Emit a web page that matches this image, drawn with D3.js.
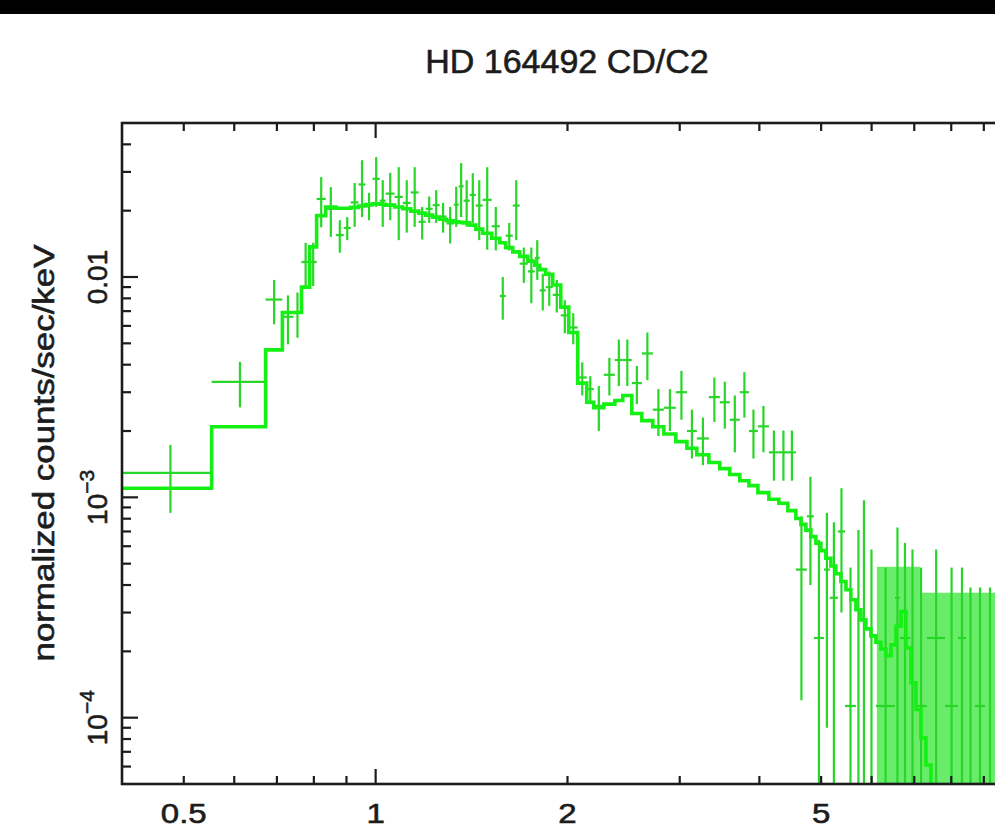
<!DOCTYPE html>
<html>
<head>
<meta charset="utf-8">
<script src="https://cdn.jsdelivr.net/npm/d3@7"></script>
<style>
  body { margin: 0; background: #fff; }
  svg { display: block; }
</style>
</head>
<body>
<svg id="chart" width="995" height="829"></svg>
<script>
// ---- spectrum: grouped channel bins (keV), count rate and 1-sigma error ----
const binEdges = [
  0.40, 0.553, 0.672, 0.714, 0.743, 0.765, 0.788, 0.808, 0.835, 0.866,
  0.891, 0.914, 0.940, 0.964, 0.989, 1.015, 1.037, 1.071, 1.103, 1.135,
  1.168, 1.198, 1.229, 1.260, 1.292, 1.326, 1.350, 1.374, 1.405, 1.436,
  1.472, 1.521, 1.566, 1.600, 1.641, 1.683, 1.733, 1.777, 1.809, 1.849,
  1.896, 1.952, 2.009, 2.075, 2.144, 2.199, 2.280, 2.373, 2.442, 2.523,
  2.616, 2.722, 2.833, 2.958, 3.079, 3.191, 3.333, 3.467, 3.594, 3.727,
  3.852, 3.979, 4.140, 4.292, 4.434, 4.564, 4.749, 4.871, 5.050, 5.160,
  5.312, 5.450, 5.669, 5.773, 5.900, 6.094, 6.529, 6.646, 6.892, 7.018,
  7.328, 7.824, 8.196, 8.437, 8.716, 9.036, 9.370, 10.0
];

const rate = [
  1.29e-3, 3.34e-3, 7.9e-3, 6.6e-3, 6.9e-3, 0.0117, 0.0117, 0.0226, 0.0204, 0.0155,
  0.0167, 0.0218, 0.0263, 0.0211, 0.0279, 0.0222, 0.0239, 0.0231, 0.0217, 0.0242,
  0.0178, 0.0204, 0.0212, 0.0188, 0.0175, 0.0213, 0.0258, 0.0222, 0.0236, 0.0211,
  0.0224, 0.0170, 0.0082, 0.0154, 0.0211, 0.0115, 0.0106, 0.0122, 0.0087, 0.0090,
  0.0083, 0.0067, 0.0059, 0.0035, 0.0031, 0.0026, 0.0036, 0.0042, 0.0042, 0.0033,
  0.0045, 0.0025, 0.00255, 0.0030, 0.0020, 0.00185, 0.00285, 0.0027, 0.00225, 0.0030,
  0.0020, 0.0021, 0.0016, 0.0016, 0.0016, 4.7e-4, 8.2e-4, 2.3e-4, 4.7e-4, 3.5e-4,
  7.0e-4, 1.13e-4, -5e-5, -5e-5, -5e-5, 1.13e-4, 3.5e-4, 2.3e-4, -5e-5, 1.13e-4,
  2.3e-4, 1.13e-4, 2.3e-4, -5e-5, 1.13e-4, -5e-5, 1.13e-4
];

const sigma = [
  4.4e-4, 7.8e-4, 1.8e-3, 1.65e-3, 1.6e-3, 2.6e-3, 2.6e-3, 5.8e-3, 5.2e-3, 2.6e-3,
  2.0e-3, 4.9e-3, 7.6e-3, 3.0e-3, 7.1e-3, 5.3e-3, 5.8e-3, 8.4e-3, 5.8e-3, 7.3e-3,
  3.0e-3, 2.8e-3, 3.6e-3, 2.9e-3, 3.3e-3, 4.4e-3, 7.1e-3, 5.3e-3, 6.0e-3, 6.4e-3,
  9.1e-3, 3.8e-3, 1.8e-3, 2.2e-3, 6.4e-3, 2.1e-3, 3.0e-3, 2.5e-3, 1.65e-3, 1.6e-3,
  1.4e-3, 1.15e-3, 9.5e-4, 6.0e-4, 4.5e-4, 6.0e-4, 7.0e-4, 1.0e-3, 1.0e-3, 6.5e-4,
  1.1e-3, 6.0e-4, 5.5e-4, 7.5e-4, 5.0e-4, 4.5e-4, 6.5e-4, 6.5e-4, 6.5e-4, 7.0e-4,
  5.0e-4, 5.0e-4, 4.1e-4, 4.1e-4, 4.1e-4, 3.5e-4, 4.2e-4, 4.1e-4, 3.8e-4, 4.2e-4,
  4.0e-4, 3.67e-4, 7.6e-4, 1.02e-3, 6.3e-4, 3.67e-4, 3.8e-4, 3.9e-4, 6.3e-4, 3.67e-4,
  3.5e-4, 3.67e-4, 2.5e-4, 4.4e-4, 2.77e-4, 4.4e-4, 2.77e-4
];

// empty single channels above 6 keV: only their upper error bars show
const emptyLo  = [6.115, 7.144];
const emptyHi  = [7.144, 10.0];
const emptyTop = [4.84e-4, 3.69e-4];

// ---- folded model: same bins up to 4.564 keV, finer channels beyond ----
const modelTailEdges = [
  4.648, 4.732, 4.818, 4.906, 4.995, 5.086, 5.179, 5.273, 5.370, 5.469,
  5.567, 5.669, 5.773, 5.878, 5.985, 6.094, 6.205, 6.318, 6.434, 6.552,
  6.672, 6.792, 6.917, 7.042, 7.171, 7.301, 7.434, 7.570, 7.709
];
const modelVal = [
  1.10e-3, 2.09e-3, 4.67e-3, 6.9e-3, 6.9e-3, 9.0e-3, 0.0137, 0.0190, 0.0208, 0.0205,
  0.0205, 0.0207, 0.0210, 0.0213, 0.0215, 0.0214, 0.0212, 0.0208, 0.0204, 0.0199,
  0.0195, 0.0191, 0.0187, 0.0183, 0.0180, 0.0178, 0.0177, 0.0176, 0.0172, 0.0165,
  0.0158, 0.0150, 0.0143, 0.0136, 0.0130, 0.0124, 0.0118, 0.0113, 0.0108, 0.0103,
  0.0092, 0.0073, 0.0056, 0.0033, 0.0027, 0.00255, 0.00265, 0.00275, 0.0029, 0.0024,
  2.23e-3, 2.09e-3, 1.94e-3, 1.79e-3, 1.67e-3, 1.56e-3, 1.44e-3, 1.35e-3, 1.27e-3, 1.19e-3,
  1.13e-3, 1.05e-3, 9.8e-4, 9.4e-4, 8.7e-4,
  8.01e-4, 7.54e-4, 7.10e-4, 6.63e-4, 6.19e-4, 5.73e-4, 5.29e-4, 4.88e-4, 4.50e-4, 4.15e-4,
  3.81e-4, 3.43e-4, 3.09e-4, 2.78e-4, 2.53e-4, 2.35e-4, 2.20e-4, 2.05e-4, 1.91e-4, 2.14e-4,
  2.60e-4, 3.03e-4, 2.07e-4, 1.44e-4, 1.09e-4, 8.1e-5, 6.1e-5, 4.7e-5, 3.5e-5
];

// ---- axes ----
const xDomain = [0.4, 10];
const yDomain = [5e-5, 0.05];
const xTickValues = [0.5, 1, 2, 5];
const xTickLabels = ['0.5', '1', '2', '5'];
const yTickValues = [1e-2, 1e-3, 1e-4];
const yTickBase = ['0.01', '10', '10'];
const yTickExp = ['', '\u22123', '\u22124'];
const titleText = 'HD 164492 CD/C2';
const yTitleText = 'normalized counts/sec/keV';

// ---------------------------------------------------------------
const W = 995, H = 829;
const box = { left: 122, right: 1013, top: 123, bottom: 784 };
const green = 'rgb(40,214,40)';
const modelGreen = 'rgb(20,240,20)';
const ink = '#1c1c1c';
const font = '"Liberation Sans", Arial, Helvetica, sans-serif';

const svg = d3.select('#chart');
svg.append('rect').attr('width', W).attr('height', H).attr('fill', '#fff');
svg.append('rect').attr('width', W).attr('height', 14).attr('fill', '#000');

const x = d3.scaleLog().domain(xDomain).range([box.left, box.right]);
const y = d3.scaleLog().domain(yDomain).range([box.bottom, box.top]);
const yc = v => (v > yDomain[0] ? y(v) : box.bottom + 30);

svg.append('defs').append('clipPath').attr('id', 'plotClip')
  .append('rect')
  .attr('x', box.left).attr('y', box.top)
  .attr('width', box.right - box.left).attr('height', box.bottom - box.top);

const plot = svg.append('g').attr('clip-path', 'url(#plotClip)');

// upper limits of empty channels
plot.selectAll('rect.empty')
  .data(emptyLo.map((lo, i) => ({ lo, hi: emptyHi[i], top: emptyTop[i] })))
  .join('rect')
  .attr('class', 'empty')
  .attr('x', d => x(d.lo))
  .attr('width', d => x(d.hi) - x(d.lo))
  .attr('y', d => y(d.top))
  .attr('height', d => box.bottom - y(d.top) + 5)
  .attr('fill', 'rgb(105,236,105)');

// data crosses
const bins = rate.map((r, i) => ({
  lo: binEdges[i], hi: binEdges[i + 1], r, s: sigma[i]
}));

const crosses = plot.append('g')
  .attr('stroke', green).attr('stroke-width', 2.2).attr('fill', 'none');

crosses.selectAll('line.v').data(bins).join('line')
  .attr('class', 'v')
  .attr('x1', d => x((d.lo + d.hi) / 2))
  .attr('x2', d => x((d.lo + d.hi) / 2))
  .attr('y1', d => yc(d.r - d.s))
  .attr('y2', d => yc(d.r + d.s));

crosses.selectAll('line.h').data(bins.filter(d => d.r > yDomain[0])).join('line')
  .attr('class', 'h')
  .attr('x1', d => x(d.lo))
  .attr('x2', d => x(d.hi))
  .attr('y1', d => y(d.r))
  .attr('y2', d => y(d.r));

// model histogram
const modelEdges = binEdges.slice(0, 66).concat(modelTailEdges);
const modelPts = [];
modelVal.forEach((v, i) => {
  modelPts.push([modelEdges[i], v]);
  modelPts.push([modelEdges[i + 1], v]);
});
plot.append('path')
  .attr('d', d3.line().x(d => x(d[0])).y(d => y(d[1]))(modelPts))
  .attr('fill', 'none')
  .attr('stroke', modelGreen)
  .attr('stroke-width', 3.6)
  .attr('stroke-linejoin', 'miter');

// frame
svg.append('rect')
  .attr('x', box.left).attr('y', box.top)
  .attr('width', box.right - box.left).attr('height', box.bottom - box.top)
  .attr('fill', 'none').attr('stroke', ink).attr('stroke-width', 2.6);

// ticks on all four sides, pointing inward
const isMajor = v => Math.abs(Math.log10(v) - Math.round(Math.log10(v))) < 1e-6;
const ticks = svg.append('g').attr('stroke', ink).attr('stroke-width', 2.2);
x.ticks().forEach(v => {
  const px = x(v), len = isMajor(v) ? 15 : 8;
  if (px <= box.left + 1 || px >= box.right - 1) return;
  ticks.append('line').attr('x1', px).attr('x2', px).attr('y1', box.bottom).attr('y2', box.bottom - len);
  ticks.append('line').attr('x1', px).attr('x2', px).attr('y1', box.top).attr('y2', box.top + len);
});
y.ticks().forEach(v => {
  const py = y(v), len = isMajor(v) ? 16 : 9;
  if (py <= box.top + 1 || py >= box.bottom - 1) return;
  ticks.append('line').attr('y1', py).attr('y2', py).attr('x1', box.left).attr('x2', box.left + len);
  ticks.append('line').attr('y1', py).attr('y2', py).attr('x1', box.right).attr('x2', box.right - len);
});

// shared text look: slightly heavier than regular
const textStyle = sel => sel
  .attr('font-family', font).attr('fill', ink)
  .attr('stroke', ink).attr('stroke-width', 0.6);

// x tick labels
xTickValues.forEach((v, i) => {
  svg.append('text')
    .attr('transform', `translate(${x(v)},823) scale(1.18,1)`)
    .attr('text-anchor', 'middle')
    .attr('font-size', 28)
    .call(textStyle)
    .text(xTickLabels[i]);
});

// y tick labels (rotated, reading upward)
yTickValues.forEach((v, i) => {
  const t = svg.append('text')
    .attr('transform', `translate(107,${y(v)}) rotate(-90)`)
    .attr('text-anchor', 'middle')
    .attr('font-size', 28)
    .call(textStyle);
  t.append('tspan').text(yTickBase[i]);
  if (yTickExp[i]) {
    t.append('tspan').attr('dy', -13).attr('font-size', 21).text(yTickExp[i]);
  }
});

// axis title
svg.append('text')
  .attr('transform', `translate(54,453) rotate(-90)`)
  .attr('text-anchor', 'middle')
  .attr('font-size', 30)
  .call(textStyle)
  .attr('textLength', 417).attr('lengthAdjust', 'spacingAndGlyphs')
  .text(yTitleText);

// plot title
svg.append('text')
  .attr('x', 567).attr('y', 73)
  .attr('text-anchor', 'middle')
  .attr('font-size', 34)
  .call(textStyle)
  .text(titleText);
</script>
</body>
</html>
